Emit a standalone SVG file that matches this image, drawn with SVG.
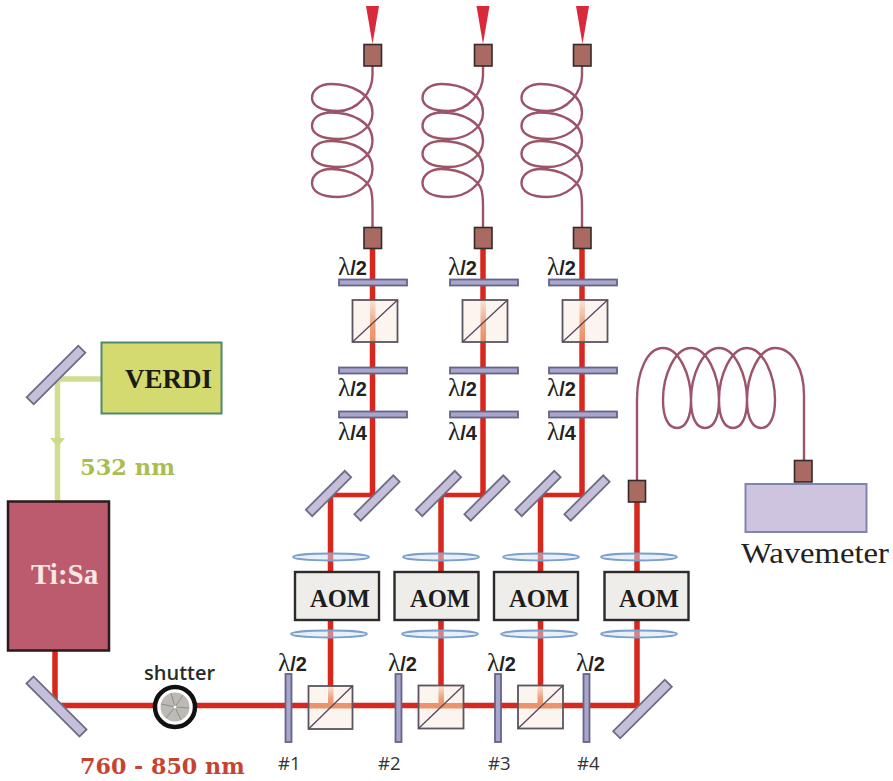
<svg xmlns="http://www.w3.org/2000/svg" width="893" height="781" viewBox="0 0 893 781">
<style>
.beam{fill:none;stroke:#d8271d;stroke-width:5.5}
.thin{fill:none;stroke:#d8271d;stroke-width:4.5}
.green{fill:none;stroke:#d3dd8f;stroke-width:5.5}
.fiber{fill:none;stroke:#9c5468;stroke-width:2.4}
.conn{fill:#a96a62;stroke:#352b2b;stroke-width:1.6}
.plate{fill:#a9a6cc;stroke:#65648a;stroke-width:1.8}
.mirror{fill:#c6bfda;stroke:#6f6d86;stroke-width:1.8}
.pbs{fill:none;stroke:#5a5560;stroke-width:1.8}
.pbsbg{fill:#fbf4ef}
.diag{stroke:#5a4560;stroke-width:1.3}
.lens{fill:#d4dfee;fill-opacity:.5;stroke:#7aa0cc;stroke-width:1.8}
.aom{fill:#efedea;stroke:#2c2a2a;stroke-width:2.4}
.s{font-family:"Liberation Serif",serif;font-weight:bold}
.d{font-family:"DejaVu Serif",serif;font-weight:bold}
.k{font-family:"Liberation Serif",serif;font-weight:bold;font-size:24.5px;fill:#1e1c1c}
.l{font-family:"Liberation Sans",sans-serif;font-weight:bold;font-size:20px;fill:#222}
.g{font-family:"Liberation Serif",serif;font-weight:normal;font-size:25px}
.n{font-family:"Open Sans",sans-serif;font-size:18.5px;fill:#333}
.tip{fill:#d92a3c}
</style>
<defs>
<linearGradient id="fadeV" x1="0" y1="0" x2="0" y2="1"><stop offset="0" stop-color="#f8e4d8"/><stop offset=".6" stop-color="#eda27c"/><stop offset="1" stop-color="#eb8e66"/></linearGradient>
<path id="coilV" class="fiber" d="M372.5,66V75C372.5,92 358,111 338,111C320,111 312,105 312,98C312,90 320,84 331,84C352,84 372.5,94 372.5,113C372.5,128 356,139 338,139C320,139 312,133 312,126C312,118 320,112.5 331,112.5C352,112.5 372.5,122 372.5,141C372.5,156 356,167 338,167C320,167 312,161 312,154C312,146 320,141 331,141C352,141 372.5,150 372.5,169C372.5,184 356,197 338,197C320,197 312,191 312,183C312,175 320,169 331,169C352,169 368,180 371,190C372.5,196 372.5,200 372.5,206V227"/>
<rect id="mirrorS" class="mirror" x="-27.5" y="-4.5" width="55" height="9" transform="rotate(-45)"/>
<rect id="wpH" class="plate" x="-34" y="-3" width="68" height="6"/>
<rect id="wpV" class="plate" x="-3" y="-34" width="6" height="68"/>
</defs>

<g id="connectors">
<path class="green" d="M101,379H57.5V501"/>
<path id="arrow532" d="M50,438H65L57.5,447Z" fill="#cfd98a"/>
<path class="beam" d="M55,651V705.5H637V495"/>
<path class="beam" d="M372.5,248V495"/>
<path class="beam" d="M483,248V495"/>
<path class="beam" d="M582,248V495"/>
<path class="thin" d="M372.5,495H330.5"/>
<path class="thin" d="M483,495H441"/>
<path class="thin" d="M582,495H540.5"/>
<path class="beam" d="M330.5,495V686"/>
<path class="beam" d="M441,495V686"/>
<path class="beam" d="M540.5,495V686"/>
<use href="#coilV"/>
<use href="#coilV" x="110.5"/>
<use href="#coilV" x="209.5"/>
<path class="fiber" d="M637,480V400C637,372 647,348 663,348C679,348 691,375 691,400C691,417 686,428 677,428C668,428 663,417 663,400C663,375 675,348 691,348C707,348 719,375 719,400C719,417 714,428 705,428C696,428 691,417 691,400C691,375 703,348 719,348C735,348 747,375 747,400C747,417 742,428 733,428C724,428 719,417 719,400C719,375 731,348 747,348C763,348 775,375 775,400C775,417 770,428 761,428C752,428 747,417 747,400C747,375 759,348 775,348C793,348 804,370 804,395V460"/>
</g>

<g id="verdi"><rect x="101.5" y="342.500" width="120" height="71" fill="#d4d970" stroke="#4f8a68" stroke-width="2"/><text class="s" x="125" y="388" font-size="27" fill="#1b1b17">VERDI</text></g>
<g id="mirror-verdi"><rect class="mirror" x="-36.5" y="-5" width="73" height="10" transform="translate(56,375) rotate(-45)"/></g>
<text id="label-532" class="d" x="80" y="475" font-size="22.5" fill="#a9bd50">532 nm</text>
<g id="tisa"><rect x="8" y="501.5" width="101" height="149" fill="#bd5b6e" stroke="#2a1a1c" stroke-width="2.5"/><text class="s" x="31" y="584" font-size="29" fill="#f8e8e4">Ti:Sa</text></g>
<g id="mirror-in"><rect class="mirror" x="-37.5" y="-5" width="75" height="10" transform="translate(56.5,706.5) rotate(45)"/></g>
<g id="shutter"><circle cx="175" cy="707" r="20" fill="#fff" stroke="#111" stroke-width="4.5"/><circle cx="175" cy="707" r="14.5" fill="#bdbab6"/><path fill="none" stroke="#8f8d8a" stroke-width="1" d="M175,707L183,695M175,707L189,708M175,707L181,720M175,707L166,718M175,707L161,704M175,707L171,693"/><circle cx="175" cy="707" r="1.5" fill="#fff"/><text x="144" y="680" font-family="'Open Sans',sans-serif" font-weight="600" font-size="20" fill="#2a2a2a">shutter</text></g>
<text id="label-760" class="d" x="80" y="774" font-size="22.2" fill="#c8432e">760 - 850 nm</text>

<g id="arm1-optics">
<use href="#wpH" x="373" y="282.5"/>
<g id="pbs-a1"><rect class="pbsbg" x="352.5" y="300" width="45" height="42"/><rect x="370" y="300" width="5.5" height="42" fill="url(#fadeV)"/><rect class="pbs" x="352.5" y="300" width="45" height="42"/><line class="diag" x1="352.5" y1="342" x2="397.5" y2="300"/></g>
<use href="#wpH" x="373" y="370.5"/>
<use href="#wpH" x="373" y="414.5"/>
<text class="l" x="338" y="275"><tspan class="g">λ</tspan>/2</text>
<text class="l" x="338" y="396"><tspan class="g">λ</tspan>/2</text>
<text class="l" x="338" y="440"><tspan class="g">λ</tspan>/4</text>
<use href="#mirrorS" transform="translate(328.5,493.5)"/>
<use href="#mirrorS" transform="translate(377,498)"/>
</g>
<g id="arm2-optics">
<use href="#wpH" x="484" y="282.5"/>
<g id="pbs-a2"><rect class="pbsbg" x="462.5" y="300" width="45" height="42"/><rect x="480.5" y="300" width="5.5" height="42" fill="url(#fadeV)"/><rect class="pbs" x="462.5" y="300" width="45" height="42"/><line class="diag" x1="462.5" y1="342" x2="507.5" y2="300"/></g>
<use href="#wpH" x="484" y="370.5"/>
<use href="#wpH" x="484" y="414.5"/>
<text class="l" x="448" y="275"><tspan class="g">λ</tspan>/2</text>
<text class="l" x="448" y="396"><tspan class="g">λ</tspan>/2</text>
<text class="l" x="448" y="440"><tspan class="g">λ</tspan>/4</text>
<use href="#mirrorS" transform="translate(438.5,493.5)"/>
<use href="#mirrorS" transform="translate(487,498)"/>
</g>
<g id="arm3-optics">
<use href="#wpH" x="583" y="282.5"/>
<g id="pbs-a3"><rect class="pbsbg" x="562.5" y="300" width="45" height="42"/><rect x="579.5" y="300" width="5.5" height="42" fill="url(#fadeV)"/><rect class="pbs" x="562.5" y="300" width="45" height="42"/><line class="diag" x1="562.5" y1="342" x2="607.5" y2="300"/></g>
<use href="#wpH" x="583" y="370.5"/>
<use href="#wpH" x="583" y="414.5"/>
<text class="l" x="547" y="275"><tspan class="g">λ</tspan>/2</text>
<text class="l" x="547" y="396"><tspan class="g">λ</tspan>/2</text>
<text class="l" x="547" y="440"><tspan class="g">λ</tspan>/4</text>
<use href="#mirrorS" transform="translate(538,493.5)"/>
<use href="#mirrorS" transform="translate(587,498)"/>
</g>

<g id="outputs">
<path class="tip" d="M366,6H379L372.5,44Z"/><path class="tip" d="M476.5,6H489.5L483,44Z"/><path class="tip" d="M576,6H589L582.5,44Z"/>
<rect class="conn" x="364" y="44.5" width="17.5" height="21.5"/><rect class="conn" x="474.5" y="44.5" width="17.5" height="21.5"/><rect class="conn" x="573.5" y="44.5" width="17.5" height="21.5"/>
<rect class="conn" x="364" y="227.5" width="17.5" height="21"/><rect class="conn" x="474.5" y="227.5" width="17.5" height="21"/><rect class="conn" x="573.5" y="227.5" width="17.5" height="21"/>
<rect class="conn" x="628.5" y="480.5" width="17" height="21.5"/><rect class="conn" x="794.5" y="460.5" width="17.5" height="21.5"/>
</g>
<g id="wavemeter"><rect x="745.5" y="484" width="121" height="48" fill="#cfc4df" stroke="#8084b2" stroke-width="2"/><text x="741" y="563" font-family="'Liberation Serif',serif" font-size="30" fill="#222" textLength="148" lengthAdjust="spacingAndGlyphs">Wavemeter</text></g>

<g id="aom1"><ellipse class="lens" cx="331" cy="557" rx="38" ry="3.5"/><rect class="aom" x="295" y="572" width="84" height="48"/><text class="k" x="310" y="607">AOM</text><ellipse class="lens" cx="329" cy="634" rx="38" ry="3.5"/></g>
<g id="aom2"><ellipse class="lens" cx="441" cy="557" rx="38" ry="3.5"/><rect class="aom" x="394.5" y="572" width="84" height="48"/><text class="k" x="410" y="607">AOM</text><ellipse class="lens" cx="440" cy="634" rx="38" ry="3.5"/></g>
<g id="aom3"><ellipse class="lens" cx="541" cy="557" rx="38" ry="3.5"/><rect class="aom" x="494" y="572" width="84" height="48"/><text class="k" x="509" y="607">AOM</text><ellipse class="lens" cx="539" cy="634" rx="38" ry="3.5"/></g>
<g id="aom4"><ellipse class="lens" cx="639" cy="557" rx="38" ry="3.5"/><rect class="aom" x="604.5" y="572" width="84" height="48"/><text class="k" x="619" y="607">AOM</text><ellipse class="lens" cx="639" cy="634" rx="38" ry="3.5"/></g>

<g id="pbs1"><rect class="pbsbg" x="308.5" y="686" width="44" height="43"/><rect x="328" y="686" width="5.5" height="20" fill="url(#fadeV)"/><rect x="308.5" y="703" width="44" height="5.5" fill="#eb946c"/><rect class="pbs" x="308.5" y="686" width="44" height="43"/><line class="diag" x1="308.5" y1="729" x2="352.5" y2="686"/></g>
<g id="pbs2"><rect class="pbsbg" x="418.5" y="685.5" width="45" height="43"/><rect x="438.5" y="685.5" width="5.5" height="20" fill="url(#fadeV)"/><rect x="418.5" y="703" width="45" height="5.5" fill="#eb946c"/><rect class="pbs" x="418.5" y="685.5" width="45" height="43"/><line class="diag" x1="418.5" y1="728.5" x2="463.5" y2="685.5"/></g>
<g id="pbs3"><rect class="pbsbg" x="518" y="685.5" width="45" height="43"/><rect x="537.5" y="685.5" width="5.5" height="20" fill="url(#fadeV)"/><rect x="518" y="703" width="45" height="5.5" fill="#eb946c"/><rect class="pbs" x="518" y="685.5" width="45" height="43"/><line class="diag" x1="518" y1="728.5" x2="563" y2="685.5"/></g>
<g id="hwp1"><use href="#wpV" x="288.5" y="708"/><text class="l" x="278" y="671"><tspan class="g">λ</tspan>/2</text><text class="n" x="278" y="770">#1</text></g>
<g id="hwp2"><use href="#wpV" x="398.5" y="708"/><text class="l" x="388" y="671"><tspan class="g">λ</tspan>/2</text><text class="n" x="378" y="770">#2</text></g>
<g id="hwp3"><use href="#wpV" x="498" y="708"/><text class="l" x="487" y="671"><tspan class="g">λ</tspan>/2</text><text class="n" x="488" y="770">#3</text></g>
<g id="hwp4"><use href="#wpV" x="586.5" y="708"/><text class="l" x="576" y="671"><tspan class="g">λ</tspan>/2</text><text class="n" x="577" y="770">#4</text></g>
<g id="mirror-out"><rect class="mirror" x="-36.5" y="-5" width="73" height="10" transform="translate(642.5,709) rotate(-45)"/></g>
</svg>
